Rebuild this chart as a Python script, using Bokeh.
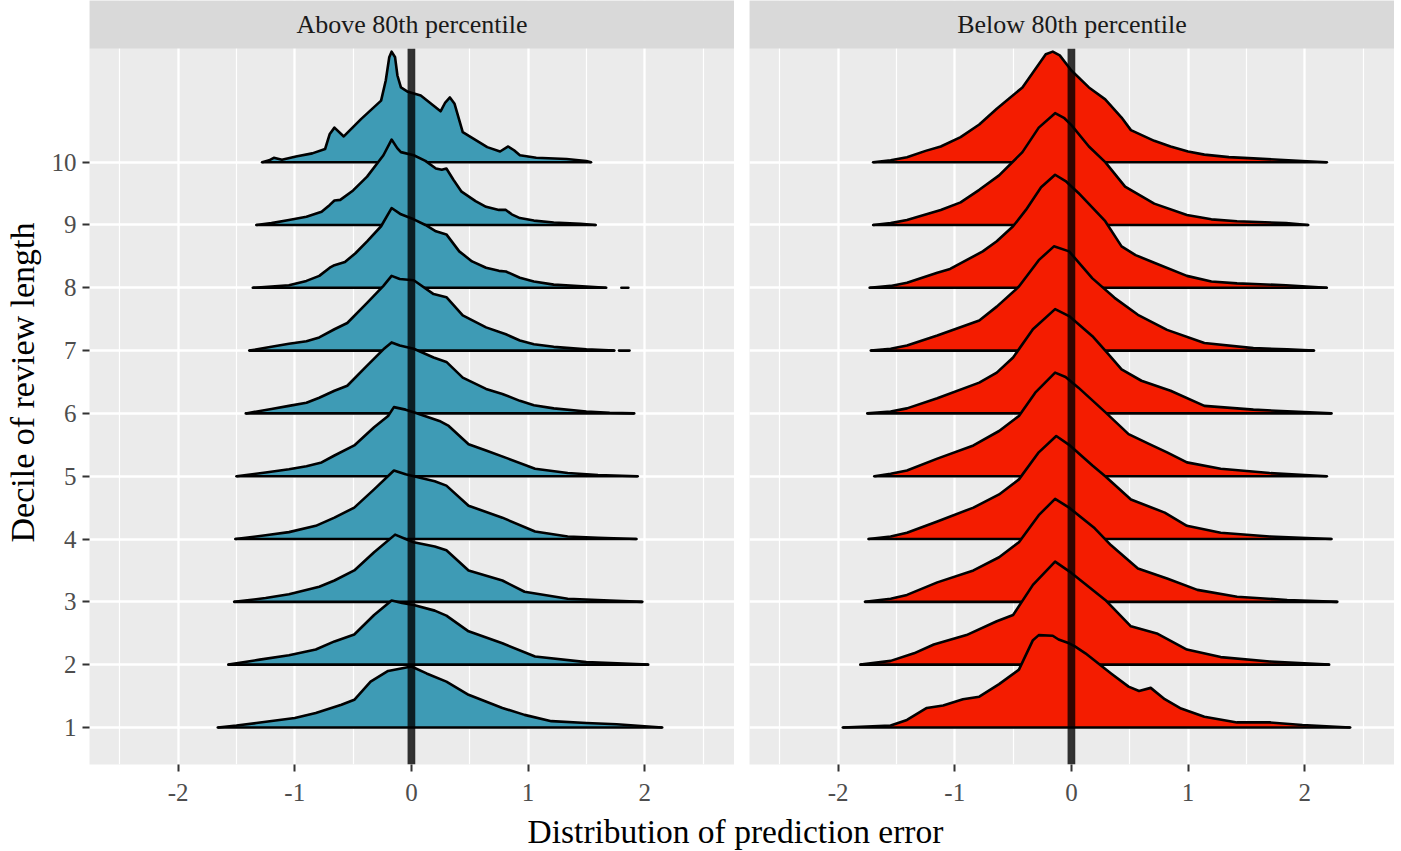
from bokeh.plotting import figure
from bokeh.models import FixedTicker, BoxAnnotation, Label, Div, PrintfTickFormatter
from bokeh.layouts import row, column
from bokeh.embed import file_html
from bokeh.resources import INLINE

deciles = list(range(1, 11))
x_ticks = [-2, -1, 0, 1, 2]
x_minor = [-2.5, -1.5, -0.5, 0.5, 1.5, 2.5]
panel_titles = ["Above 80th percentile", "Below 80th percentile"]
panel_colors = ["#3E9BB5", "#F41C00"]

# ridge outlines: (error, density height in rows)
above_10 = [(-1.28, 0.0), (-1.22, 0.03), (-1.18, 0.07), (-1.11, 0.04), (-0.99, 0.09), (-0.85, 0.14),
            (-0.74, 0.21), (-0.70, 0.45), (-0.66, 0.55), (-0.58, 0.41), (-0.43, 0.69), (-0.26, 0.98),
            (-0.22, 1.30), (-0.19, 1.67), (-0.17, 1.76), (-0.14, 1.67), (-0.12, 1.38), (-0.09, 1.19),
            (-0.03, 1.12), (0.08, 1.06), (0.25, 0.81), (0.29, 0.95), (0.33, 1.03), (0.37, 0.93),
            (0.44, 0.48), (0.51, 0.40), (0.65, 0.24), (0.76, 0.17), (0.83, 0.25), (0.88, 0.19),
            (0.93, 0.11), (1.07, 0.07), (1.33, 0.05), (1.50, 0.02), (1.54, 0.0)]
above_9 = [(-1.33, 0.0), (-1.2, 0.03), (-1.05, 0.08), (-0.9, 0.13), (-0.77, 0.21), (-0.70, 0.32),
           (-0.66, 0.39), (-0.61, 0.40), (-0.5, 0.55), (-0.38, 0.77), (-0.24, 1.11), (-0.17, 1.36),
           (-0.12, 1.22), (-0.09, 1.16), (0.02, 1.11), (0.12, 1.02), (0.21, 0.90), (0.26, 0.88),
           (0.30, 0.90), (0.36, 0.72), (0.43, 0.53), (0.55, 0.38), (0.64, 0.29), (0.75, 0.24),
           (0.81, 0.24), (0.86, 0.17), (0.93, 0.11), (1.05, 0.07), (1.22, 0.04), (1.45, 0.02), (1.58, 0.0)]
above_8 = [(-1.36, 0.0), (-1.2, 0.02), (-1.05, 0.04), (-0.9, 0.11), (-0.79, 0.19), (-0.70, 0.32),
           (-0.66, 0.36), (-0.57, 0.41), (-0.48, 0.55), (-0.38, 0.74), (-0.26, 0.98), (-0.17, 1.27),
           (-0.09, 1.17), (0.02, 1.09), (0.12, 1.0), (0.21, 0.90), (0.30, 0.85), (0.41, 0.58),
           (0.52, 0.42), (0.64, 0.32), (0.75, 0.27), (0.81, 0.26), (0.93, 0.16), (1.05, 0.10),
           (1.22, 0.05), (1.50, 0.02), (1.67, 0.0)]
above_7 = [(-1.39, 0.0), (-1.2, 0.06), (-1.05, 0.11), (-0.9, 0.15), (-0.79, 0.21), (-0.66, 0.34),
           (-0.55, 0.44), (-0.38, 0.76), (-0.24, 1.03), (-0.17, 1.19), (-0.10, 1.14), (0.02, 1.12),
           (0.19, 0.90), (0.30, 0.85), (0.44, 0.56), (0.64, 0.37), (0.81, 0.26), (0.93, 0.16),
           (1.05, 0.10), (1.22, 0.06), (1.50, 0.02), (1.74, 0.0)]
above_6 = [(-1.42, 0.0), (-1.2, 0.07), (-1.05, 0.12), (-0.9, 0.17), (-0.79, 0.25), (-0.66, 0.36),
           (-0.55, 0.44), (-0.38, 0.76), (-0.24, 1.02), (-0.17, 1.13), (-0.10, 1.08), (0.02, 1.03),
           (0.19, 0.89), (0.30, 0.82), (0.44, 0.57), (0.64, 0.39), (0.78, 0.31), (0.93, 0.20),
           (1.05, 0.13), (1.22, 0.08), (1.50, 0.03), (1.70, 0.01), (1.91, 0.0)]
above_5 = [(-1.50, 0.0), (-1.25, 0.06), (-1.05, 0.11), (-0.9, 0.16), (-0.77, 0.22), (-0.66, 0.33),
           (-0.49, 0.49), (-0.32, 0.78), (-0.20, 0.96), (-0.15, 1.10), (-0.05, 1.06), (0.02, 1.02),
           (0.24, 0.88), (0.32, 0.80), (0.49, 0.51), (0.64, 0.41), (0.83, 0.28), (1.06, 0.12),
           (1.34, 0.05), (1.6, 0.02), (1.94, 0.0)]
above_4 = [(-1.51, 0.0), (-1.25, 0.06), (-1.05, 0.11), (-0.82, 0.21), (-0.66, 0.34), (-0.49, 0.50),
           (-0.32, 0.79), (-0.15, 1.09), (-0.05, 1.03), (0.02, 1.0), (0.20, 0.92), (0.30, 0.85),
           (0.49, 0.53), (0.78, 0.34), (1.06, 0.12), (1.34, 0.04), (1.6, 0.02), (1.93, 0.0)]
above_3 = [(-1.52, 0.0), (-1.25, 0.06), (-1.05, 0.12), (-0.79, 0.24), (-0.66, 0.34), (-0.49, 0.50),
           (-0.32, 0.79), (-0.14, 1.07), (-0.05, 1.0), (0.02, 0.95), (0.20, 0.88), (0.30, 0.82),
           (0.49, 0.50), (0.78, 0.34), (0.97, 0.16), (1.34, 0.05), (1.7, 0.02), (1.98, 0.0)]
above_2 = [(-1.57, 0.0), (-1.3, 0.08), (-1.05, 0.15), (-0.82, 0.24), (-0.66, 0.37), (-0.49, 0.48),
           (-0.32, 0.79), (-0.17, 1.02), (-0.08, 0.98), (0.02, 0.95), (0.20, 0.86), (0.30, 0.78),
           (0.49, 0.53), (0.78, 0.34), (1.06, 0.13), (1.50, 0.04), (2.03, 0.0)]
above_1 = [(-1.66, 0.0), (-1.5, 0.03), (-1.33, 0.07), (-1.0, 0.15), (-0.82, 0.23), (-0.60, 0.36),
           (-0.49, 0.44), (-0.35, 0.73), (-0.20, 0.90), (0.0, 0.97), (0.13, 0.86), (0.30, 0.73),
           (0.49, 0.52), (0.78, 0.31), (0.97, 0.20), (1.20, 0.10), (1.50, 0.07), (1.76, 0.05),
           (2.0, 0.02), (2.15, 0.0)]

below_10 = [(-1.70, 0.0), (-1.55, 0.03), (-1.41, 0.08), (-1.25, 0.18), (-1.12, 0.25), (-0.95, 0.40),
            (-0.79, 0.60), (-0.64, 0.85), (-0.42, 1.19), (-0.28, 1.56), (-0.22, 1.72), (-0.16, 1.76),
            (-0.10, 1.70), (0.0, 1.46), (0.15, 1.19), (0.29, 1.0), (0.43, 0.71), (0.51, 0.51),
            (0.71, 0.34), (0.85, 0.25), (1.0, 0.17), (1.14, 0.12), (1.35, 0.08), (1.56, 0.06),
            (1.98, 0.02), (2.19, 0.0)]
below_9 = [(-1.70, 0.0), (-1.55, 0.03), (-1.41, 0.08), (-1.12, 0.24), (-0.95, 0.36), (-0.79, 0.56),
           (-0.62, 0.79), (-0.42, 1.16), (-0.28, 1.55), (-0.14, 1.78), (-0.06, 1.70), (0.0, 1.59),
           (0.15, 1.25), (0.29, 1.0), (0.46, 0.61), (0.71, 0.34), (0.99, 0.16), (1.20, 0.09),
           (1.42, 0.06), (1.84, 0.03), (2.03, 0.0)]
below_8 = [(-1.73, 0.0), (-1.55, 0.03), (-1.41, 0.08), (-1.15, 0.24), (-1.04, 0.30), (-0.76, 0.58),
           (-0.64, 0.74), (-0.50, 0.98), (-0.39, 1.24), (-0.26, 1.60), (-0.14, 1.80), (-0.05, 1.70),
           (0.06, 1.51), (0.29, 1.06), (0.43, 0.66), (0.55, 0.52), (0.71, 0.40), (0.99, 0.19),
           (1.20, 0.10), (1.42, 0.07), (1.84, 0.04), (2.19, 0.0)]
below_7 = [(-1.72, 0.0), (-1.55, 0.03), (-1.41, 0.08), (-1.15, 0.24), (-0.79, 0.48), (-0.64, 0.70),
           (-0.45, 1.02), (-0.28, 1.44), (-0.15, 1.66), (-0.02, 1.58), (0.18, 1.15), (0.37, 0.84),
           (0.57, 0.57), (0.82, 0.33), (1.14, 0.12), (1.56, 0.04), (1.85, 0.02), (2.08, 0.0)]
below_6 = [(-1.75, 0.0), (-1.55, 0.03), (-1.41, 0.08), (-1.15, 0.24), (-0.79, 0.49), (-0.64, 0.65),
           (-0.50, 0.89), (-0.33, 1.34), (-0.14, 1.66), (-0.02, 1.55), (0.18, 1.23), (0.30, 0.98),
           (0.43, 0.70), (0.60, 0.52), (0.85, 0.36), (1.14, 0.12), (1.56, 0.06), (1.90, 0.03), (2.23, 0.0)]
below_5 = [(-1.69, 0.0), (-1.55, 0.04), (-1.41, 0.09), (-1.15, 0.28), (-0.84, 0.49), (-0.62, 0.72),
           (-0.45, 0.96), (-0.31, 1.33), (-0.14, 1.65), (-0.05, 1.58), (0.06, 1.41), (0.29, 1.02),
           (0.49, 0.67), (0.66, 0.52), (0.82, 0.38), (0.99, 0.22), (1.28, 0.12), (1.70, 0.05), (2.19, 0.0)]
below_4 = [(-1.74, 0.0), (-1.55, 0.04), (-1.41, 0.10), (-1.15, 0.28), (-0.84, 0.50), (-0.62, 0.71),
           (-0.45, 0.95), (-0.28, 1.38), (-0.13, 1.64), (-0.02, 1.50), (0.18, 1.17), (0.29, 1.0),
           (0.51, 0.63), (0.80, 0.42), (0.99, 0.21), (1.28, 0.10), (1.70, 0.04), (2.23, 0.0)]
below_3 = [(-1.77, 0.0), (-1.55, 0.05), (-1.41, 0.11), (-1.15, 0.31), (-0.84, 0.50), (-0.62, 0.71),
           (-0.45, 0.95), (-0.28, 1.38), (-0.14, 1.64), (-0.02, 1.50), (0.20, 1.17), (0.34, 0.90),
           (0.57, 0.53), (0.82, 0.37), (1.08, 0.19), (1.42, 0.08), (1.85, 0.03), (2.28, 0.0)]
below_2 = [(-1.81, 0.0), (-1.55, 0.06), (-1.35, 0.18), (-1.18, 0.32), (-0.90, 0.47), (-0.64, 0.69),
           (-0.50, 0.79), (-0.33, 1.27), (-0.14, 1.64), (0.0, 1.46), (0.29, 1.03), (0.51, 0.61),
           (0.74, 0.49), (0.99, 0.24), (1.28, 0.12), (1.70, 0.05), (2.21, 0.0)]
below_1 = [(-1.96, 0.0), (-1.55, 0.03), (-1.41, 0.12), (-1.24, 0.31), (-1.10, 0.35), (-0.93, 0.45),
           (-0.79, 0.49), (-0.62, 0.69), (-0.45, 0.92), (-0.33, 1.39), (-0.28, 1.47), (-0.16, 1.46),
           (-0.11, 1.40), (-0.02, 1.34), (0.03, 1.29), (0.12, 1.18), (0.34, 0.86), (0.49, 0.65),
           (0.58, 0.58), (0.68, 0.63), (0.80, 0.45), (0.94, 0.30), (1.14, 0.17), (1.42, 0.08),
           (1.70, 0.08), (1.98, 0.04), (2.39, 0.0)]

# detached bits of the baseline far right (above 80th, deciles 8 and 7)
stray_rows = [8, 7]
stray_x0 = [1.80, 1.78]
stray_x1 = [1.86, 1.87]

above = [above_1, above_2, above_3, above_4, above_5, above_6, above_7, above_8, above_9, above_10]
below = [below_1, below_2, below_3, below_4, below_5, below_6, below_7, below_8, below_9, below_10]

FONT = "Liberation Serif"
FRAME_W = 645
PANEL_H = 716
STRIP_H = 48
LEFT_BORDER = 83
X_RANGE = (-2.76, 2.77)
Y_LO, Y_HI = 0.41, 11.81
y_top = Y_HI + STRIP_H * (Y_HI - Y_LO) / PANEL_H


def make_panel(title, ridges, color, first):
    p = figure(frame_width=FRAME_W, frame_height=PANEL_H + STRIP_H,
               x_range=X_RANGE, y_range=(Y_LO, y_top),
               output_backend="svg", toolbar_location=None,
               background_fill_color="#EBEBEB", border_fill_color="white",
               outline_line_color=None,
               min_border_top=0, min_border_bottom=50, min_border_right=0,
               min_border_left=LEFT_BORDER if first else 15)

    p.xgrid.ticker = FixedTicker(ticks=x_ticks, minor_ticks=x_minor)
    p.xgrid.grid_line_color = "white"
    p.xgrid.grid_line_width = 2.3
    p.xgrid.minor_grid_line_color = "white"
    p.xgrid.minor_grid_line_width = 1.2
    p.ygrid.ticker = FixedTicker(ticks=deciles)
    p.ygrid.grid_line_color = "white"
    p.ygrid.grid_line_width = 2.3

    p.xaxis.ticker = FixedTicker(ticks=x_ticks)
    p.xaxis.formatter = PrintfTickFormatter(format="%d")
    for ax in p.xaxis + p.yaxis:
        ax.axis_line_color = None
        ax.major_tick_line_color = "#333333"
        ax.major_tick_line_width = 2
        ax.major_tick_out = 7
        ax.major_tick_in = 0
        ax.minor_tick_line_color = None
        ax.major_label_text_font = FONT
        ax.major_label_text_font_size = "25px"
        ax.major_label_text_color = "#4D4D4D"
    p.xaxis.major_label_standoff = 12

    if first:
        p.yaxis.ticker = FixedTicker(ticks=deciles)
        p.yaxis.major_label_standoff = 6
        p.yaxis.axis_label = "Decile of review length"
        p.yaxis.axis_label_text_font = FONT
        p.yaxis.axis_label_text_font_size = "34px"
        p.yaxis.axis_label_text_font_style = "normal"
        p.yaxis.axis_label_text_color = "black"
        p.yaxis.axis_label_standoff = 8
    else:
        p.yaxis.visible = False

    # top rows first so lower ridges overlap the ones above
    for d in reversed(deciles):
        pts = ridges[d - 1]
        xs = [pt[0] for pt in pts]
        ys = [d + pt[1] for pt in pts]
        p.patch(xs + [xs[-1], xs[0]], ys + [d, d], fill_color=color, line_color=None)
        p.line(xs, ys, line_color="black", line_width=2.6, line_join="round")
        p.line([xs[0], xs[-1]], [d, d], line_color="black", line_width=2.6, line_cap="round")

    if first:
        p.segment(x0=stray_x0, y0=stray_rows, x1=stray_x1, y1=stray_rows,
                  line_color="black", line_width=2.6, line_cap="round")

    p.segment(x0=[0], y0=[Y_LO], x1=[0], y1=[Y_HI], line_color="black",
              line_alpha=0.8, line_width=7.7)

    p.add_layout(BoxAnnotation(bottom=Y_HI, fill_color="#D9D9D9", fill_alpha=1,
                               line_color=None))
    p.add_layout(Label(x=sum(X_RANGE) / 2, y=(Y_HI + y_top) / 2, text=title,
                       text_align="center", text_baseline="middle",
                       text_font=FONT, text_font_size="26px", text_color="#1A1A1A"))
    return p


p1 = make_panel(panel_titles[0], above, panel_colors[0], True)
p2 = make_panel(panel_titles[1], below, panel_colors[1], False)

xlabel = Div(text="Distribution of prediction error", width=2 * FRAME_W + 15,
             margin=(0, 0, 0, LEFT_BORDER),
             styles={"text-align": "center", "font-family": FONT,
                     "font-size": "33.5px", "color": "black", "line-height": "1.1"})

p = column(row(p1, p2), xlabel)

open("out.html", "w").write(file_html(p, INLINE))
